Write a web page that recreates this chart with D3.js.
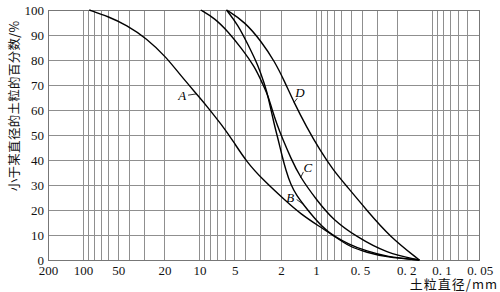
<!DOCTYPE html>
<html>
<head>
<meta charset="utf-8">
<script src="https://cdn.jsdelivr.net/npm/d3@7"></script>
<style>
  body { margin: 0; background: #fff; }
  svg { display: block; }
</style>
</head>
<body>
<svg id="chart" width="500" height="292"></svg>
<script>
// grain size (mm) -> percent finer
var curveA = [
  [88.5, 100], [60.2, 97.3], [42.4, 94], [28.6, 88.7], [19.2, 81], [14.8, 74.2],
  [9.82, 64.6], [8.5, 61], [6.49, 54.2], [5.16, 47.6], [3.96, 39.3], [2.85, 32],
  [1.79, 23.3], [1.38, 18.7], [0.93, 13.3], [0.738, 10.3], [0.514, 5.2],
  [0.369, 3.1], [0.249, 1.1], [0.13, 0]
];
var curveB = [
  [5.88, 100], [4.67, 94], [3.83, 86], [3.15, 78], [2.76, 70], [2.6, 66],
  [2.285, 54], [2.11, 48], [1.97, 42], [1.82, 36], [1.65, 30], [1.46, 25.6],
  [1.275, 22], [1.06, 17.3], [0.814, 11.3], [0.514, 6], [0.369, 3.6],
  [0.249, 1.3], [0.13, 0]
];
var curveC = [
  [9.77, 100], [7.41, 96.7], [5.69, 91.3], [4.37, 84.7], [3.36, 77.3], [2.85, 70],
  [2.6, 66], [2.41, 60.8], [2.16, 54], [1.92, 48], [1.65, 40.8], [1.38, 33.3],
  [0.99, 24], [0.714, 16], [0.45, 9.3], [0.249, 2.7], [0.13, 0]
];
var curveD = [
  [5.88, 100], [4.09, 95.3], [2.94, 87.3], [2.26, 79.3], [1.86, 71.3], [1.547, 63],
  [1.21, 53.3], [0.93, 44], [0.714, 36], [0.548, 29.6], [0.369, 20], [0.233, 9.3],
  [0.13, 0]
];

var curveNames = ['A', 'B', 'C', 'D'];
var curveData = [curveA, curveB, curveC, curveD];
// diameter on each curve where its label leader touches
var labelAt = [10.63, 1.29, 1.361, 1.547];

var xTickValues = [200, 100, 50, 20, 10, 5, 2, 1, 0.5, 0.2, 0.1, 0.05];
var xTickLabels = ['200', '100', '50', '20', '10', '5', '2', '1', '0. 5', '0. 2', '0. 1', '0. 05'];
var yTickValues = [0, 10, 20, 30, 40, 50, 60, 70, 80, 90, 100];

var yTitle = '小于某直径的土粒的百分数/%';
var xTitle = '土粒直径/mm';

var plotLeft = 48, plotRight = 479, plotTop = 10, plotBottom = 260;
var serif = '"Liberation Serif", "DejaVu Serif", serif';
var cjk = '"Noto Sans CJK SC", sans-serif';
var gridColor = '#8f8f8f';

var svg = d3.select('#chart');

var x = d3.scaleLog().domain([200, 0.04]).range([plotLeft, plotRight]);
var y = d3.scaleLinear().domain([0, 100]).range([plotBottom, plotTop]);

// percent on a curve at a given diameter (linear in log d)
function percentAt(data, d) {
  for (var i = 1; i < data.length; i++) {
    var a = data[i - 1], b = data[i];
    if (d <= a[0] && d >= b[0]) {
      var t = Math.log(a[0] / d) / Math.log(a[0] / b[0]);
      return a[1] + t * (b[1] - a[1]);
    }
  }
  return 0;
}

// grid
var gridX = x.ticks().filter(function (d) { return d <= 100 && d > 0.0401; });
var grid = svg.append('g')
  .attr('stroke', gridColor)
  .attr('stroke-width', 1)
  .attr('shape-rendering', 'crispEdges');

grid.selectAll('.vx').data(gridX).enter().append('line')
  .attr('x1', x).attr('x2', x)
  .attr('y1', plotTop).attr('y2', plotBottom);

grid.selectAll('.hy').data(yTickValues).enter().append('line')
  .attr('x1', plotLeft).attr('x2', plotRight)
  .attr('y1', y).attr('y2', y);

svg.append('rect')
  .attr('x', plotLeft).attr('y', plotTop)
  .attr('width', plotRight - plotLeft).attr('height', plotBottom - plotTop)
  .attr('fill', 'none')
  .attr('stroke', '#777')
  .attr('stroke-width', 1)
  .attr('shape-rendering', 'crispEdges');

// axes
var xAxis = d3.axisBottom(x)
  .tickValues(xTickValues)
  .tickSize(0)
  .tickPadding(6)
  .tickFormat(function (d, i) { return xTickLabels[i]; });

var gx = svg.append('g')
  .attr('transform', 'translate(0,' + plotBottom + ')')
  .call(xAxis);
gx.select('.domain').remove();
gx.selectAll('text')
  .attr('font-family', serif)
  .attr('font-size', 13)
  .attr('fill', '#111')
  .attr('text-anchor', function (d) { return d < 1 ? 'start' : 'middle'; })
  .attr('dx', function (d) { return d < 1 ? -1 : 0; });

var yAxis = d3.axisLeft(y)
  .tickValues(yTickValues)
  .tickSize(0)
  .tickPadding(4);

var gy = svg.append('g')
  .attr('transform', 'translate(' + plotLeft + ',0)')
  .call(yAxis);
gy.select('.domain').remove();
gy.selectAll('text')
  .attr('font-family', serif)
  .attr('font-size', 13)
  .attr('fill', '#111');

// curves
var line = d3.line()
  .x(function (d) { return x(d[0]); })
  .y(function (d) { return y(d[1]); })
  .curve(d3.curveBasis);

svg.append('g').selectAll('path')
  .data(curveData).enter().append('path')
  .attr('d', line)
  .attr('fill', 'none')
  .attr('stroke', '#000')
  .attr('stroke-width', 1.4);

// curve labels with short leaders
var leaderFrom = [[-8.4, 1.3], [-6.6, -4.7], [2.9, -5.8], [3.2, -4.2]];
var labelShift = [[-14.2, 6.3], [-13, -2.3], [7.3, -6], [6, -5.8]];

var labels = svg.append('g');
curveNames.forEach(function (name, i) {
  var ax = x(labelAt[i]);
  var ay = y(percentAt(curveData[i], labelAt[i]));
  labels.append('line')
    .attr('x1', ax + leaderFrom[i][0]).attr('y1', ay + leaderFrom[i][1])
    .attr('x2', ax).attr('y2', ay)
    .attr('stroke', '#000')
    .attr('stroke-width', 0.8);
  labels.append('text')
    .attr('x', ax + labelShift[i][0])
    .attr('y', ay + labelShift[i][1])
    .attr('text-anchor', 'middle')
    .attr('font-family', serif)
    .attr('font-style', 'italic')
    .attr('font-size', 13)
    .text(name);
});

// titles
svg.append('text')
  .attr('transform', 'translate(19,106) rotate(-90)')
  .attr('text-anchor', 'middle')
  .attr('font-family', cjk)
  .attr('font-size', 12.5)
  .attr('letter-spacing', 0.3)
  .attr('fill', '#111')
  .text(yTitle);

svg.append('text')
  .attr('x', 498)
  .attr('y', 289)
  .attr('text-anchor', 'end')
  .attr('font-family', cjk)
  .attr('font-size', 13)
  .attr('letter-spacing', 1)
  .attr('fill', '#111')
  .text(xTitle);
</script>
</body>
</html>
